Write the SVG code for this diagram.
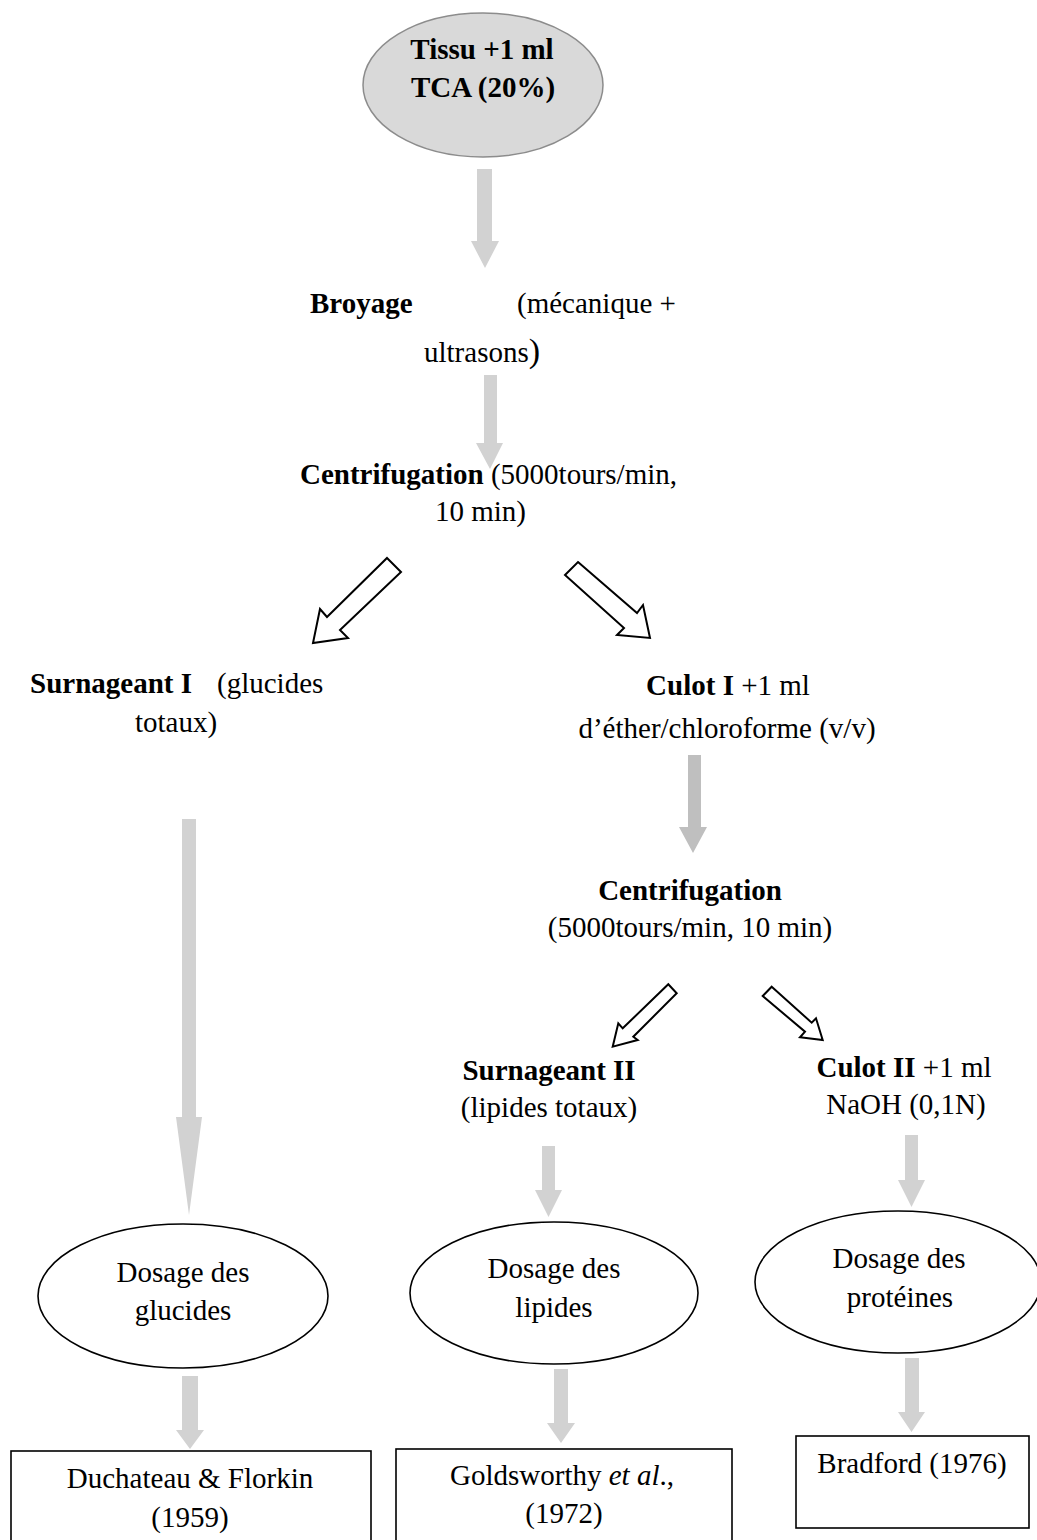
<svg xmlns="http://www.w3.org/2000/svg" width="1037" height="1540" viewBox="0 0 1037 1540">
<style>
text{font-family:"Liberation Serif","Times New Roman",serif;font-size:29px;fill:#000}
.b{font-weight:bold}
.c{text-anchor:middle}
.ga{fill:#d2d2d2;stroke:none}
.gd{fill:#bfbfbf;stroke:none}
.ho{fill:#fff;stroke:#000;stroke-width:2;stroke-linejoin:miter}
.el{fill:#fff;stroke:#000;stroke-width:1.6}
.bx{fill:#fff;stroke:#000;stroke-width:1.6}
</style>
<rect width="1037" height="1540" fill="#fff"/>
<g id="connectors">
<polygon class="ga" points="477,169 492,169 492,241 499,241 485,268 471,241 477,241"/>
<polygon class="ga" points="484,375 497,375 497,443 503,443 490,469 476,443 484,443"/>
<polygon class="ho" points="387,558 401,572 340,630 348,638 313,643 320,609 327,617"/>
<polygon class="ho" points="578,562 637,613 643,605 650,638 617,635 624,628 565,575"/>
<polygon class="ga" points="182,819 196,819 196,1117 202,1117 189,1215 176,1117 182,1117"/>
<polygon class="gd" points="688,755 701,755 701,827 707,827 693,853 679,827 688,827"/>
<polygon class="ho" points="668.3,984.3 676.7,993.3 633.3,1036.7 637.7,1040 612.7,1046.7 618.3,1023.3 622.7,1028.3"/>
<polygon class="ho" points="771.7,986.7 811.7,1022.7 816,1018.3 822.7,1040 800,1037.3 805,1031.7 762.7,996"/>
<polygon class="ga" points="542,1146 555,1146 555,1190 562,1190 548.5,1217 535,1190 542,1190"/>
<polygon class="ga" points="905,1135 918,1135 918,1180 925,1180 911.5,1207 898,1180 905,1180"/>
<polygon class="ga" points="182,1376 198,1376 198,1430 204,1430 190,1449 176,1430 182,1430"/>
<polygon class="ga" points="554,1369 568,1369 568,1423 575,1423 561,1443 547,1423 554,1423"/>
<polygon class="ga" points="905,1358 919,1358 919,1412 925,1412 911.5,1432 898,1412 905,1412"/>
</g>
<g id="tissu">
<ellipse cx="483" cy="85" rx="120" ry="72" fill="#d9d9d9" stroke="#8c8c8c" stroke-width="1.5"/>
<text class="b c" x="482" y="59">Tissu +1 ml</text>
<text class="b c" x="483" y="97">TCA (20%)</text>
</g>
<g id="broyage">
<text class="b" x="310" y="313">Broyage</text>
<text x="517" y="313">(mécanique +</text>
<text x="424" y="362">ultrasons<tspan font-size="34">)</tspan></text>
</g>
<g id="centrifugation1">
<text x="300" y="484"><tspan class="b">Centrifugation</tspan> (5000tours/min,</text>
<text x="435" y="521">10 min)</text>
</g>
<g id="surnageant1">
<text class="b" x="30" y="693">Surnageant I</text>
<text x="217" y="693">(glucides</text>
<text x="135" y="732">totaux)</text>
</g>
<g id="culot1">
<text class="c" x="728" y="695"><tspan class="b">Culot I</tspan> +1 ml</text>
<text class="c" x="727" y="738">d’éther/chloroforme (v/v)</text>
</g>
<g id="centrifugation2">
<text class="b c" x="690" y="900">Centrifugation</text>
<text class="c" x="690" y="937">(5000tours/min, 10 min)</text>
</g>
<g id="surnageant2">
<text class="b c" x="549" y="1080">Surnageant II</text>
<text class="c" x="549" y="1117">(lipides totaux)</text>
</g>
<g id="culot2">
<text class="c" x="904" y="1077"><tspan class="b">Culot II</tspan> +1 ml</text>
<text class="c" x="906" y="1114">NaOH (0,1N)</text>
</g>
<g id="dosage-glucides">
<ellipse class="el" cx="183" cy="1296" rx="145" ry="72"/>
<text class="c" x="183" y="1282">Dosage des</text>
<text class="c" x="183" y="1320">glucides</text>
</g>
<g id="dosage-lipides">
<ellipse class="el" cx="554" cy="1293" rx="144" ry="71"/>
<text class="c" x="554" y="1278">Dosage des</text>
<text class="c" x="554" y="1317">lipides</text>
</g>
<g id="dosage-proteines">
<ellipse class="el" cx="898" cy="1282" rx="143" ry="71"/>
<text class="c" x="899" y="1268">Dosage des</text>
<text class="c" x="900" y="1307">protéines</text>
</g>
<g id="duchateau">
<rect class="bx" x="11" y="1451" width="360" height="120"/>
<text class="c" x="190" y="1488">Duchateau &amp; Florkin</text>
<text class="c" x="190" y="1527">(1959)</text>
</g>
<g id="goldsworthy">
<rect class="bx" x="396" y="1449" width="336" height="120"/>
<text class="c" x="562" y="1485">Goldsworthy <tspan font-style="italic">et al</tspan>.,</text>
<text class="c" x="564" y="1523">(1972)</text>
</g>
<g id="bradford">
<rect class="bx" x="796" y="1436" width="233" height="92"/>
<text class="c" x="912" y="1473">Bradford (1976)</text>
</g>
</svg>
